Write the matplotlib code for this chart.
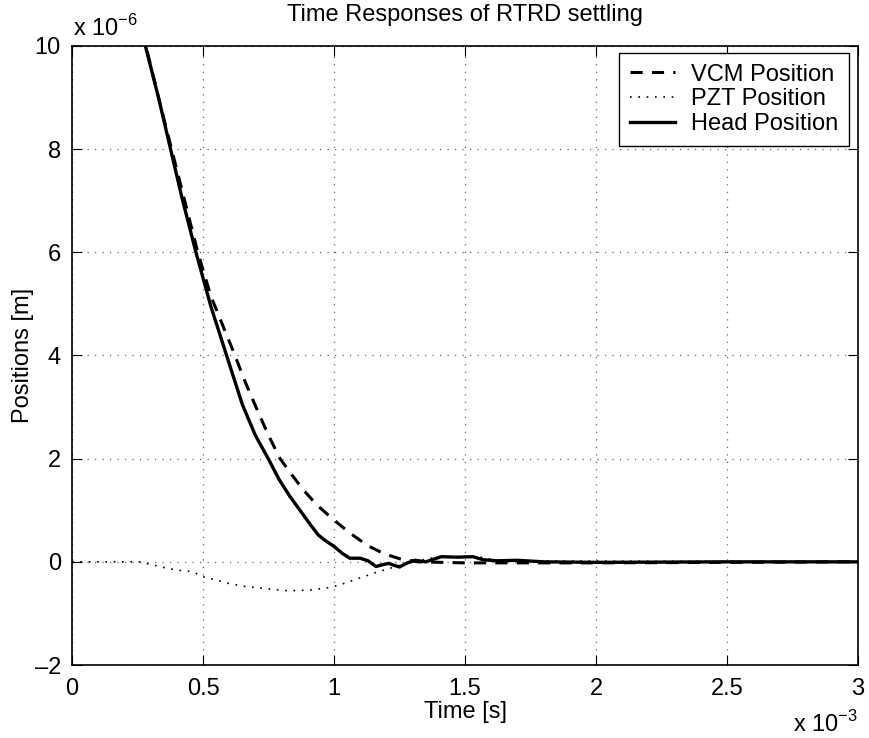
import matplotlib
matplotlib.use('Agg')
import matplotlib.pyplot as plt

plt.rcParams['font.family'] = ['Liberation Sans', 'DejaVu Sans']
plt.rcParams['mathtext.fontset'] = 'custom'
plt.rcParams['mathtext.rm'] = 'Liberation Sans'

# time in ms (x 10^-3 s), positions in um (x 10^-6 m)
vcm_t = [0.25, 0.282, 0.33, 0.38, 0.43, 0.48, 0.53, 0.59, 0.622, 0.66, 0.702, 0.75,
         0.794, 0.84, 0.882, 0.935, 1.0, 1.06, 1.13, 1.19, 1.25, 1.32, 1.5, 2.0, 3.0]
vcm_y = [10.7, 10.0, 9.0, 8.0, 7.0, 6.0, 5.15, 4.4, 4.0, 3.5, 3.0, 2.45,
         2.0, 1.68, 1.4, 1.1, 0.81, 0.56, 0.31, 0.16, 0.06, 0.0, -0.02, -0.02, 0.0]

pzt_t = [0.0, 0.2, 0.26, 0.3, 0.34, 0.4, 0.46, 0.5, 0.55, 0.59, 0.65, 0.72, 0.82,
         0.9, 0.97, 1.02, 1.06, 1.1, 1.17, 1.23, 1.3, 1.4, 1.55, 1.63, 3.0]
pzt_y = [0.0, 0.0, 0.0, -0.05, -0.1, -0.16, -0.19, -0.29, -0.35, -0.41, -0.47, -0.51, -0.56,
         -0.55, -0.51, -0.45, -0.38, -0.31, -0.19, -0.1, 0.0, 0.1, 0.1, 0.02, 0.0]

head_t = [0.25, 0.28, 0.33, 0.377, 0.42, 0.473, 0.53, 0.59, 0.65, 0.70, 0.749, 0.79,
          0.83, 0.87, 0.91, 0.94, 0.97, 1.0, 1.03, 1.06, 1.1, 1.13, 1.16, 1.19, 1.21,
          1.23, 1.25, 1.28, 1.31, 1.35, 1.38, 1.41, 1.47, 1.53, 1.57, 1.62, 1.7, 1.8,
          2.0, 2.5, 3.0]
head_y = [10.7, 10.0, 9.0, 7.98, 7.05, 6.0, 4.95, 4.0, 3.05, 2.45, 2.0, 1.6,
          1.28, 1.0, 0.72, 0.52, 0.4, 0.3, 0.17, 0.07, 0.07, 0.02, -0.09, -0.05, -0.03,
          -0.07, -0.1, -0.02, 0.03, 0.0, 0.05, 0.1, 0.09, 0.1, 0.04, 0.02, 0.03, 0.0,
          -0.01, 0.0, 0.0]

fs = 17

fig = plt.figure(figsize=(8.69, 7.38), dpi=100)
ax = fig.add_axes([0.0829, 0.0989, 0.9044, 0.8388])

ax.plot(vcm_t, vcm_y, color='k', ls='--', lw=2.2, dashes=(4, 3), label='VCM Position')
ax.plot(pzt_t, pzt_y, color='k', ls=':', lw=1.2, dashes=(1, 4), label='PZT Position')
ax.plot(head_t, head_y, color='k', ls='-', lw=2.4, label='Head Position')

ax.set_xlim(0, 3)
ax.set_ylim(-2, 10)
ax.set_xticks([0, 0.5, 1, 1.5, 2, 2.5, 3])
ax.set_xticklabels(['0', '0.5', '1', '1.5', '2', '2.5', '3'])
ax.set_yticks([-2, 0, 2, 4, 6, 8, 10])
ax.set_yticklabels(['\u20132', '0', '2', '4', '6', '8', '10'])
ax.tick_params(direction='in', top=True, right=True, length=7, labelsize=fs, width=0.8)
ax.tick_params(axis='x', pad=9)
ax.tick_params(axis='y', pad=8)
ax.grid(True, color='0.4', linestyle=(0, (1, 5)), lw=0.9)
for s in ax.spines.values():
    s.set_linewidth(1.2)

ax.set_title('Time Responses of RTRD settling', fontsize=fs, pad=18)
ax.set_xlabel('Time [s]', fontsize=fs, labelpad=1)
ax.set_ylabel('Positions [m]', fontsize=fs, va='center')
ax.yaxis.set_label_coords(-0.062, 0.5)

fig.text(0.084, 0.951, r'x 10$^{-6}$', fontsize=fs, ha='left', va='baseline')
fig.text(0.987, 0.008, r'x 10$^{-3}$', fontsize=fs, ha='right', va='baseline')

leg = ax.legend(loc='upper right', bbox_to_anchor=(0.9885, 0.9887), fontsize=fs,
                fancybox=False, framealpha=1, edgecolor='black', handlelength=1.9,
                handletextpad=0.7, borderaxespad=0, labelspacing=0.12, borderpad=0.45)
leg.get_frame().set_linewidth(1.0)

fig.savefig('out.png', dpi=100)
